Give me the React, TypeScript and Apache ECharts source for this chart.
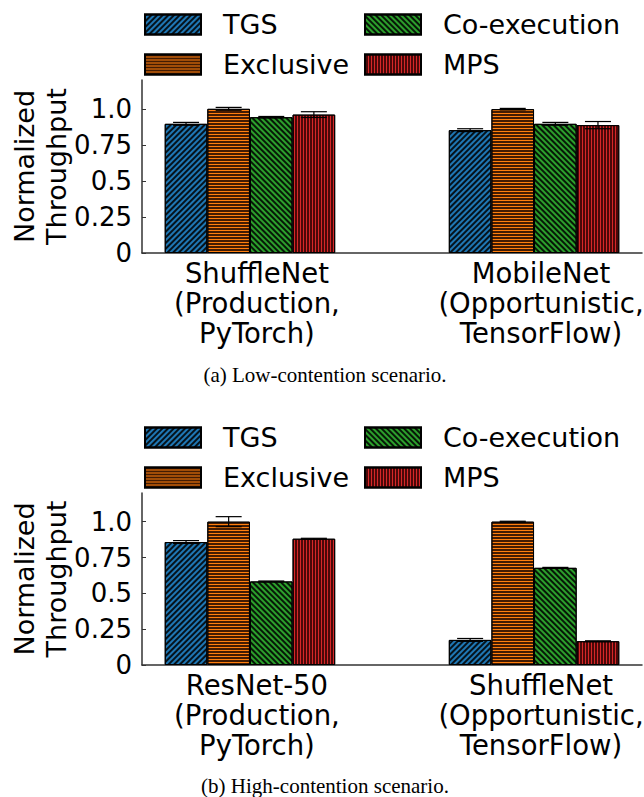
import React, { useEffect, useRef } from "react";
import * as echarts from "echarts";

const seriesNames = ["TGS", "Exclusive", "Co-execution", "MPS"];
const seriesColors = ["#1f77b4", "#ff7f0e", "#2ca02c", "#d62728"];

const lowCategories = ["ShuffleNet\n(Production,\nPyTorch)", "MobileNet\n(Opportunistic,\nTensorFlow)"];
const highCategories = ["ResNet-50\n(Production,\nPyTorch)", "ShuffleNet\n(Opportunistic,\nTensorFlow)"];

const lowTGS = [0.896, 0.852];
const lowExclusive = [1.0, 0.998];
const lowCoexec = [0.942, 0.896];
const lowMPS = [0.96, 0.887];
const lowErrTGS = [0.01, 0.01];
const lowErrExclusive = [0.01, 0.005];
const lowErrCoexec = [0.005, 0.01];
const lowErrMPS = [0.02, 0.025];

const highTGS = [0.858, 0.175];
const highExclusive = [1.0, 1.0];
const highCoexec = [0.583, 0.678];
const highMPS = [0.881, 0.166];
const highErrTGS = [0.01, 0.01];
const highErrExclusive = [0.035, 0.003];
const highErrCoexec = [0.003, 0.003];
const highErrMPS = [0.003, 0.003];

const yTickValues = [0, 0.25, 0.5, 0.75, 1];
const yTickLabels = ["0", "0.25", "0.5", "0.75", "1.0"];

const captions = ["(a) Low-contention scenario.", "(b) High-contention scenario."];

const BAR_W = 0.15;
const X_MIN = -0.38;
const X_MAX = 1.38;
const GRID_LEFT = 142;
const GRID_RIGHT = 2;
const WIDTH = 644;
const HEIGHT = 797;
const FONT = "DejaVu Sans";

const decals = [
  { symbol: "rect", symbolSize: 1, dashArrayX: [1, 0], dashArrayY: [1.5, 1.5], rotation: -Math.PI / 4, color: "rgba(0,0,0,0.85)" },
  { symbol: "rect", symbolSize: 1, dashArrayX: [1, 0], dashArrayY: [2, 1], rotation: 0, color: "rgba(35,10,0,0.85)" },
  { symbol: "rect", symbolSize: 1, dashArrayX: [1, 0], dashArrayY: [1.5, 1.5], rotation: Math.PI / 4, color: "rgba(0,0,0,0.85)" },
  { symbol: "rect", symbolSize: 1, dashArrayX: [1, 0], dashArrayY: [2, 1], rotation: Math.PI / 2, color: "rgba(40,0,0,0.8)" },
];

export default function App() {
  const ref = useRef<HTMLDivElement>(null);
  useEffect(() => {
    if (!ref.current) return;
    const chart = echarts.init(ref.current, undefined, { renderer: "svg" });
    const plotW = WIDTH - GRID_LEFT - GRID_RIGHT;
    const barWidthPx = (plotW * BAR_W) / (X_MAX - X_MIN);

    const panels = [
      { cats: lowCategories, vals: [lowTGS, lowExclusive, lowCoexec, lowMPS], errs: [lowErrTGS, lowErrExclusive, lowErrCoexec, lowErrMPS] },
      { cats: highCategories, vals: [highTGS, highExclusive, highCoexec, highMPS], errs: [highErrTGS, highErrExclusive, highErrCoexec, highErrMPS] },
    ];

    const grids = [
      { left: GRID_LEFT, right: GRID_RIGHT, top: 80, height: 173, outerBoundsMode: "none", containLabel: false },
      { left: GRID_LEFT, right: GRID_RIGHT, top: 493, height: 172, outerBoundsMode: "none", containLabel: false },
    ];

    const axisLineStyle = { color: "#333", width: 1.5 };

    const xAxes = panels.map((p, i) => ({
      type: "value",
      gridIndex: i,
      min: X_MIN,
      max: X_MAX,
      axisLine: { show: true, onZero: false, lineStyle: axisLineStyle },
      axisTick: { show: false },
      splitLine: { show: false },
      axisLabel: {
        customValues: [0, 1],
        formatter: (v: number) => p.cats[Math.round(v)] ?? "",
        fontSize: 27.5,
        lineHeight: 30,
        fontFamily: FONT,
        color: "#000",
        margin: 5,
        padding: [0, 0, 0, 14],
        hideOverlap: false,
      },
    }));

    const yAxes = panels.map((p, i) => ({
      type: "value",
      gridIndex: i,
      min: 0,
      max: 1.2,
      name: "Normalized\nThroughput",
      nameLocation: "middle",
      nameGap: 70,
      nameMoveOverlap: false,
      nameTextStyle: { fontSize: 27, lineHeight: 32, fontFamily: FONT, color: "#000" },
      axisLine: { show: true, onZero: false, lineStyle: axisLineStyle },
      axisTick: { show: true, inside: true, length: 4, customValues: yTickValues, lineStyle: { color: "#333" } },
      splitLine: { show: false },
      axisLabel: {
        customValues: yTickValues,
        formatter: (v: number) => yTickLabels[yTickValues.indexOf(v)] ?? "",
        fontSize: 26,
        fontFamily: FONT,
        color: "#000",
        margin: 10,
        hideOverlap: false,
      },
    }));

    const series: any[] = [];
    panels.forEach((p, pi) => {
      seriesNames.forEach((name, si) => {
        const off = (si - 1.5) * BAR_W;
        series.push({
          type: "bar",
          name,
          xAxisIndex: pi,
          yAxisIndex: pi,
          barWidth: barWidthPx,
          barGap: "-100%",
          data: p.vals[si].map((v, gi) => [gi + off, v]),
          itemStyle: {
            color: seriesColors[si],
            borderColor: "#000",
            borderWidth: 1,
            decal: decals[si],
          },
          z: 2,
        });
      });
      const errData: number[][] = [];
      seriesNames.forEach((_, si) => {
        const off = (si - 1.5) * BAR_W;
        p.vals[si].forEach((v, gi) => errData.push([gi + off, v, p.errs[si][gi]]));
      });
      series.push({
        type: "custom",
        name: "err" + pi,
        xAxisIndex: pi,
        yAxisIndex: pi,
        z: 5,
        data: errData,
        renderItem: (params: any, api: any) => {
          const x = api.value(0);
          const y = api.value(1);
          const e = api.value(2);
          const top = api.coord([x, y + e]);
          const bot = api.coord([x, y - e]);
          const hw = 13;
          const st = { stroke: "#000", lineWidth: 1.2 };
          return {
            type: "group",
            children: [
              { type: "line", shape: { x1: top[0], y1: top[1], x2: bot[0], y2: bot[1] }, style: st },
              { type: "line", shape: { x1: top[0] - hw, y1: top[1], x2: top[0] + hw, y2: top[1] }, style: st },
              { type: "line", shape: { x1: bot[0] - hw, y1: bot[1], x2: bot[0] + hw, y2: bot[1] }, style: st },
            ],
          };
        },
      });
    });

    const legendBase = {
      orient: "vertical",
      icon: "rect",
      itemWidth: 56,
      itemHeight: 20,
      itemGap: 13,
      selectedMode: false,
      textStyle: { fontSize: 27, fontFamily: FONT, color: "#000", lineHeight: 20, padding: [0, 0, 0, 17] },
    };
    const legends = [
      { ...legendBase, left: 139, top: 6, data: ["TGS", "Exclusive"] },
      { ...legendBase, left: 359, top: 6, data: ["Co-execution", "MPS"] },
      { ...legendBase, left: 139, top: 419, data: ["TGS", "Exclusive"] },
      { ...legendBase, left: 359, top: 419, data: ["Co-execution", "MPS"] },
    ];

    const graphic = captions.map((c, i) => ({
      type: "text",
      x: 325,
      y: i === 0 ? 375 : 786,
      style: {
        text: c,
        font: '21px "Liberation Serif", "Times New Roman", serif',
        fill: "#000",
        textAlign: "center",
        textVerticalAlign: "middle",
      },
    }));

    chart.setOption({
      animation: false,
      backgroundColor: "#fff",
      grid: grids,
      xAxis: xAxes,
      yAxis: yAxes,
      legend: legends,
      series,
      graphic,
    });
    return () => chart.dispose();
  }, []);
  return <div ref={ref} style={{ position: "absolute", left: 0, top: 0, width: WIDTH, height: HEIGHT }} />;
}
